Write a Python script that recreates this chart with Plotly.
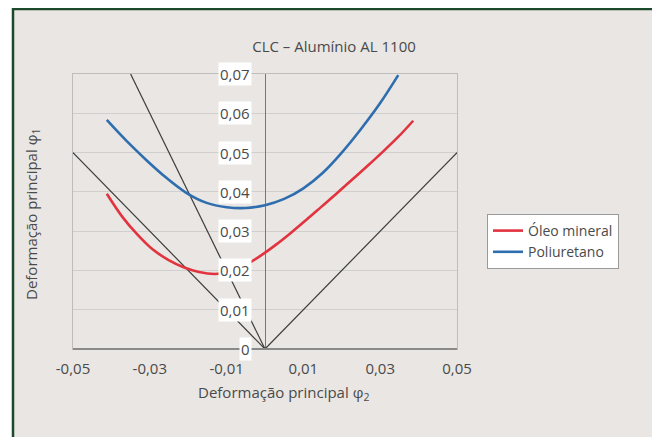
import plotly.graph_objects as go

# ---- data ----
oleo_x = [-0.0412, -0.0372, -0.0332, -0.0292, -0.0252, -0.0212, -0.0172, -0.0132, -0.0092,
          -0.0052, -0.0012, 0.0028, 0.0068, 0.0108, 0.0148, 0.0188, 0.0228, 0.0268, 0.0308,
          0.0348, 0.0386]
oleo_y = [0.0395, 0.0337, 0.0291, 0.0253, 0.0227, 0.0208, 0.0196, 0.0191, 0.0196,
          0.0213, 0.0237, 0.0265, 0.0296, 0.0329, 0.0363, 0.0397, 0.0432, 0.0467, 0.0503,
          0.0541, 0.0581]
poli_x = [-0.0412, -0.0360, -0.0308, -0.0256, -0.0204, -0.0152, -0.0100, -0.0050, 0.0000,
          0.0050, 0.0100, 0.0150, 0.0200, 0.0250, 0.0300, 0.0347]
poli_y = [0.0583, 0.0529, 0.0480, 0.0435, 0.0397, 0.0372, 0.0361, 0.0359, 0.0366,
          0.0382, 0.0409, 0.0448, 0.0500, 0.0560, 0.0626, 0.0697]

# reference strain paths
ref1_x = [0.0, 0.05];   ref1_y = [0.0, 0.05]
ref2_x = [-0.05, 0.0];  ref2_y = [0.05, 0.0]
ref3_x = [-0.035, 0.0]; ref3_y = [0.07, 0.0]

x_ticks = [-0.05, -0.03, -0.01, 0.01, 0.03, 0.05]
x_ticktext = ["-0,05", "-0,03", "-0,01", "0,01", "0,03", "0,05"]
y_ticks = [0, 0.01, 0.02, 0.03, 0.04, 0.05, 0.06, 0.07]
y_ticktext = ["0", "0,01", "0,02", "0,03", "0,04", "0,05", "0,06", "0,07"]

title_text = "CLC – Alumínio AL 1100"
xtitle = "Deformação principal φ<sub>2</sub>"
ytitle = "Deformação principal φ<sub>1</sub>"

FONT = "Open Sans, Roboto, sans-serif"
TXT = "#4a4a4a"
RED = "#E2343F"
BLUE = "#2E6EAE"
BLK = "#3c3c3c"

OFF = 8  # page body margin
W, H = 660, 437
L, R, T, B = 65, 211, 66, 96
PW, PH = W - L - R, H - T - B


def px(xr):
    """window x (pixels) -> paper x"""
    return (xr - OFF - L) / PW


def py(yr):
    """window y (pixels) -> paper y"""
    return (H - B - (yr - OFF)) / PH


fig = go.Figure()
for xs, ys in [(ref1_x, ref1_y), (ref2_x, ref2_y), (ref3_x, ref3_y)]:
    fig.add_trace(go.Scatter(x=xs, y=ys, mode="lines", line=dict(color=BLK, width=1.2),
                             showlegend=False, hoverinfo="skip"))
fig.add_trace(go.Scatter(x=oleo_x, y=oleo_y, mode="lines", name="Óleo mineral",
                         line=dict(color=RED, width=2.6, shape="spline", smoothing=1.0)))
fig.add_trace(go.Scatter(x=poli_x, y=poli_y, mode="lines", name="Poliuretano",
                         line=dict(color=BLUE, width=2.6, shape="spline", smoothing=1.0)))

shapes = [
    dict(type="rect", xref="paper", yref="paper", x0=px(13), x1=px(655), y0=py(9), y1=py(480),
         fillcolor="#E9E6E3", line=dict(color="#1E4A2C", width=2.5), layer="below"),
    dict(type="line", xref="paper", yref="paper", x0=0, x1=1, y0=0, y1=0,
         line=dict(color="#8a8a8a", width=2)),
]

annotations = []
for v, t in zip(y_ticks, y_ticktext):
    annotations.append(dict(x=0, y=v, xref="x", yref="y", text=t, showarrow=False,
                            xanchor="right", yanchor="middle", xshift=-13,
                            bgcolor="white", borderpad=1,
                            font=dict(family=FONT, size=15, color=TXT)))
annotations.append(dict(x=px(283), y=py(393), xref="paper", yref="paper", text=xtitle,
                        showarrow=False, xanchor="center", yanchor="middle",
                        font=dict(family=FONT, size=15, color=TXT)))
annotations.append(dict(x=px(32), y=py(215), xref="paper", yref="paper", text=ytitle,
                        showarrow=False, xanchor="center", yanchor="middle", textangle=-90,
                        font=dict(family=FONT, size=15, color=TXT)))

fig.update_layout(
    width=W, height=H,
    margin=dict(l=L, r=R, t=T, b=B),
    paper_bgcolor="white",
    plot_bgcolor="white",
    font=dict(family=FONT, size=15, color=TXT),
    title=dict(text=title_text, x=px(334), xref="paper", xanchor="center",
               y=1 - (47 - OFF) / H, yref="container", yanchor="middle",
               font=dict(family=FONT, size=15, color=TXT)),
    xaxis=dict(range=[-0.05, 0.05], tickvals=x_ticks, ticktext=x_ticktext,
               showgrid=False, zeroline=True, zerolinecolor="#777777", zerolinewidth=1.2,
               showline=True, mirror=True, linecolor="#bdbdbd", linewidth=1,
               ticks="", ticklabelstandoff=6, tickfont=dict(family=FONT, size=15, color=TXT),
               fixedrange=True),
    yaxis=dict(range=[0, 0.07], tickvals=y_ticks, showticklabels=False,
               showgrid=True, gridcolor="#cfcfcf", gridwidth=1.2, zeroline=False,
               showline=True, mirror=True, linecolor="#bdbdbd", linewidth=1,
               ticks="", fixedrange=True),
    legend=dict(x=px(487), y=py(214), xanchor="left", yanchor="top",
                bgcolor="white", bordercolor="#9a9a9a", borderwidth=1,
                font=dict(family=FONT, size=14, color=TXT),
                itemwidth=30, tracegroupgap=0),
    shapes=shapes,
    annotations=annotations,
    showlegend=True,
)

fig.write_html("out.html")
